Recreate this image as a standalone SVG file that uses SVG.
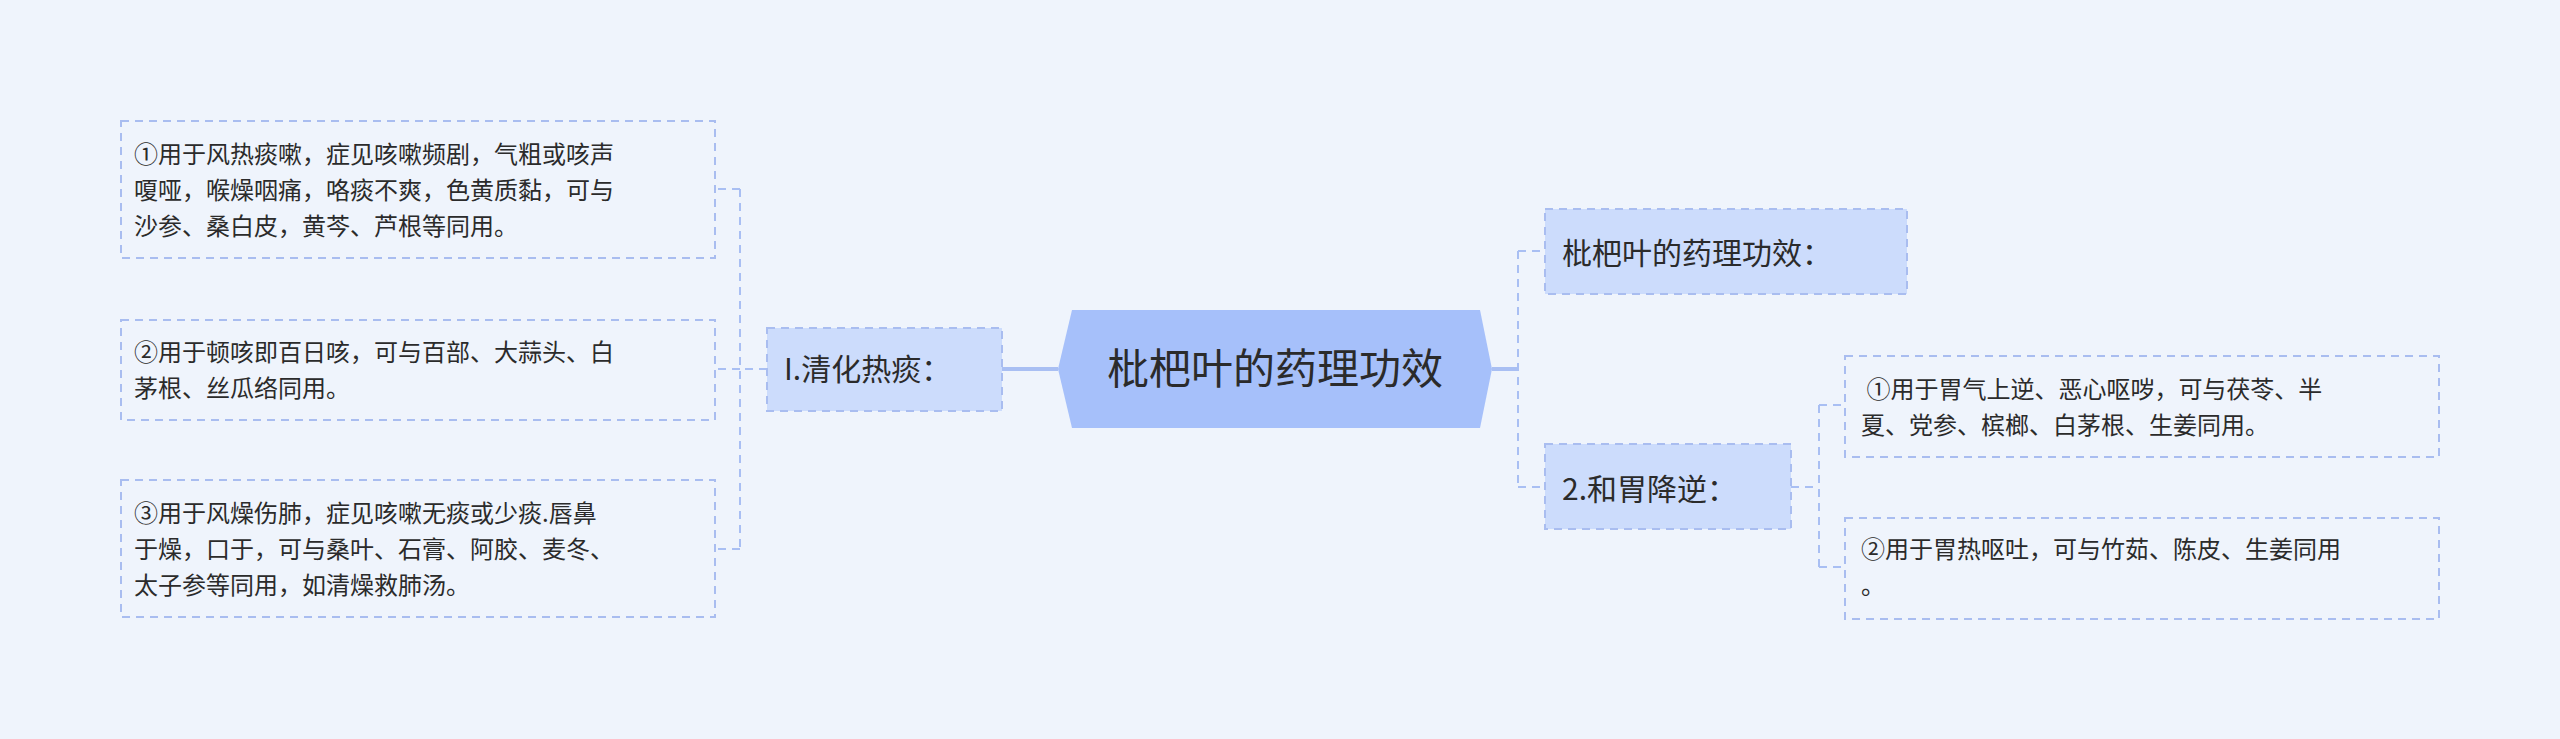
<svg xmlns="http://www.w3.org/2000/svg" width="2560" height="739" viewBox="0 0 2560 739">
<style>
text{font-family:"Noto Sans CJK SC","Liberation Sans",sans-serif;fill:#2b2b2b}
.leaf{fill:#eff4fc;stroke:#a9bdf0;stroke-width:2;stroke-dasharray:8 6}
.mid{fill:#ccdcfc;stroke:#a9bdf0;stroke-width:2;stroke-dasharray:8 6}
.lt{font-size:24px}
.mt{font-size:30px}
.c{fill:none;stroke:#a9bff3;stroke-width:2;stroke-dasharray:8 6}
</style>
<rect width="2560" height="739" fill="#eff4fc"/>
<g id="connectors">
<path d="M1002 369H1058" fill="none" stroke="#a9bff3" stroke-width="4"/>
<path class="c" d="M767 369H740M740 189V549M740 189H715M740 369H715M740 549H715"/>
<path d="M1492 369H1518" fill="none" stroke="#a9bff3" stroke-width="4"/>
<path class="c" d="M1518 251V487M1518 251H1545M1518 487H1545"/>
<path class="c" d="M1791 487H1819M1819 405V567M1819 405H1845M1819 567H1845"/>
</g>
<g id="center">
<polygon points="1072,310 1480,310 1492,369 1480,428 1072,428 1058,369" fill="#a6c0fa"/>
<text x="1275" y="384" font-size="42" text-anchor="middle">枇杷叶的药理功效</text>
</g>
<g id="n_left">
<rect class="mid" x="767" y="328" width="235" height="83"/>
<text class="mt" x="784" y="380">I.清化热痰：</text>
</g>
<g id="leaf1">
<rect class="leaf" x="121" y="121" width="594" height="137"/>
<text class="lt" x="134" y="163">①用于风热痰嗽，症见咳嗽频剧，气粗或咳声</text>
<text class="lt" x="134" y="199">嗄哑，喉燥咽痛，咯痰不爽，色黄质黏，可与</text>
<text class="lt" x="134" y="235">沙参、桑白皮，黄芩、芦根等同用。</text>
</g>
<g id="leaf2">
<rect class="leaf" x="121" y="320" width="594" height="100"/>
<text class="lt" x="134" y="361">②用于顿咳即百日咳，可与百部、大蒜头、白</text>
<text class="lt" x="134" y="397">茅根、丝瓜络同用。</text>
</g>
<g id="leaf3">
<rect class="leaf" x="121" y="480" width="594" height="137"/>
<text class="lt" x="134" y="522">③用于风燥伤肺，症见咳嗽无痰或少痰.唇鼻</text>
<text class="lt" x="134" y="558">于燥，口于，可与桑叶、石膏、阿胶、麦冬、</text>
<text class="lt" x="134" y="594">太子参等同用，如清燥救肺汤。</text>
</g>
<g id="n_r1">
<rect class="mid" x="1545" y="209" width="362" height="85"/>
<text class="mt" x="1562" y="264">枇杷叶的药理功效：</text>
</g>
<g id="n_r2">
<rect class="mid" x="1545" y="444" width="246" height="85"/>
<text class="mt" x="1562" y="500">2.和胃降逆：</text>
</g>
<g id="leaf_r1">
<rect class="leaf" x="1845" y="356" width="594" height="101"/>
<text class="lt" x="1861" y="398" xml:space="preserve"> ①用于胃气上逆、恶心呕哕，可与茯苓、半</text>
<text class="lt" x="1861" y="434">夏、党参、槟榔、白茅根、生姜同用。</text>
</g>
<g id="leaf_r2">
<rect class="leaf" x="1845" y="518" width="594" height="101"/>
<text class="lt" x="1861" y="558">②用于胃热呕吐，可与竹茹、陈皮、生姜同用</text>
<text class="lt" x="1861" y="594">。</text>
</g>
</svg>
